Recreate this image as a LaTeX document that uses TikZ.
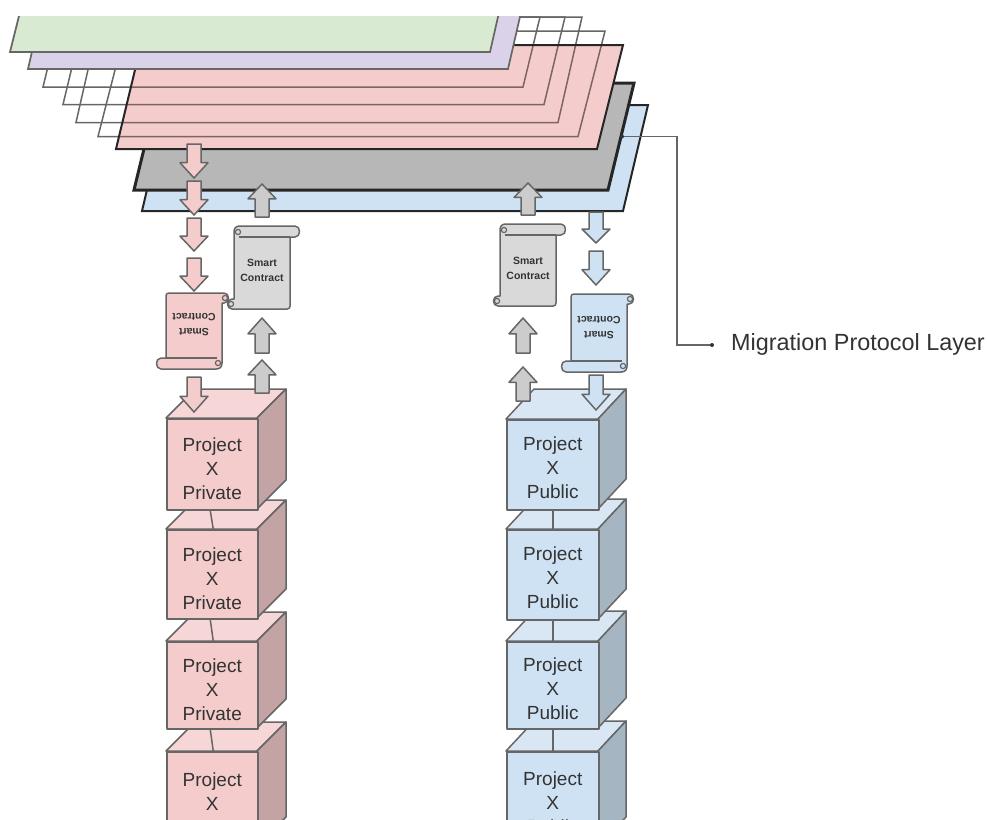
\documentclass[tikz,border=0pt]{standalone}
\usepackage{fontspec}
\setmainfont{Liberation Sans}
\usetikzlibrary{calc}
\definecolor{edgegray}{HTML}{666666}
\definecolor{txt}{HTML}{333333}
\definecolor{greenfill}{HTML}{D9EAD3}
\definecolor{purplefill}{HTML}{D9D2E9}
\definecolor{redfill}{HTML}{F4CCCC}
\definecolor{grayfill}{HTML}{B7B7B7}
\definecolor{bluefill}{HTML}{CFE2F3}
\definecolor{redline}{HTML}{7D6565}
\definecolor{scrollgray}{HTML}{D9D9D9}
\definecolor{arrowgray}{HTML}{CCCCCC}
\definecolor{pinkfront}{HTML}{F4CCCC}
\definecolor{pinktop}{HTML}{F6D6D6}
\definecolor{pinkside}{HTML}{C3A3A3}
\definecolor{skyfront}{HTML}{CFE2F3}
\definecolor{skytop}{HTML}{D9E7F5}
\definecolor{skyside}{HTML}{A6B5C2}
\tikzset{
  softedge/.style={draw=edgegray,line width=1.5pt,line join=round},
  planelight/.style={draw=edgegray,line width=1.7pt,line join=miter},
  planeblack/.style={draw=black!85,line width=2pt,line join=miter},
  gridline/.style={draw=edgegray,line width=1.5pt},
  cubetext/.style={text=txt,font=\fontsize{19}{24}\selectfont,align=center,inner sep=0pt},
  scrolltext/.style={text=txt,font=\fontsize{10.5}{15}\selectfont\bfseries,align=center,inner sep=0pt},
  leader/.style={draw=edgegray,line width=1.2pt},
  leaderdot/.style={fill=black!80,draw=none,circle,inner sep=0pt,minimum size=4pt},
}
% centre x, base y, tip y, fill
\newcommand\barrow[4]{%
  \path[softedge,fill=#4]
    (#1-7,#2) -- (#1+7,#2)
    -- ($(#1+7,#2)!0.55!(#1+7,#3)$) -- ($(#1+14,#2)!0.55!(#1+14,#3)$)
    -- (#1,#3)
    -- ($(#1-14,#2)!0.55!(#1-14,#3)$) -- ($(#1-7,#2)!0.55!(#1-7,#3)$) -- cycle;}
% name, origin x, origin y, rotation, height, fill
\newcommand\scrollshape[6]{%
  \begin{scope}[shift={(#2,#3)},rotate=#4]
    \path[softedge,fill=#6]
      (0,6) .. controls (0,2) and (2,0) .. (6,0) -- (61,0)
      .. controls (67,0) and (67,11) .. (61,11) -- (56,11) -- (56,#5-3)
      .. controls (56,#5-1) and (55,#5) .. (53,#5) -- (-2,#5)
      .. controls (-8,#5) and (-8,#5-10) .. (-2,#5-10) -- (0,#5-10) -- cycle;
    \draw[softedge,line width=1.2pt] (5,11) -- (56,11);
    \draw[softedge,line width=1.2pt] (4,6) circle (2.6pt);
    \draw[softedge,line width=1.2pt] (-3,#5-5) circle (2.6pt);
    \node[scrolltext,rotate=#4] (#1) at (28,44) {Smart\\Contract};
  \end{scope}}
% name, x, y, height, text, colour prefix
\newcommand\cubeblock[6]{%
  \path[softedge,fill=#6top] (#2,#3) -- ++(\cubedx,-\cubedy) -- ++(\cubew,0) -- ++(-\cubedx,\cubedy) -- cycle;
  \path[softedge,fill=#6side] (#2+\cubew,#3) -- ++(\cubedx,-\cubedy) -- ++(0,#4) -- ++(-\cubedx,\cubedy) -- cycle;
  \node[softedge,fill=#6front,anchor=north west,inner sep=0pt,minimum width=\cubew pt,minimum height=#4 pt] (#1) at (#2,#3) {};
  \node[cubetext] (#1t) at ([yshift=-\cubeshift pt]#1.center) {#5};}
\begin{document}
\begin{tikzpicture}[x=1pt,y=-1pt]
\clip (0,0) rectangle (987,819);
\begin{scope}
\clip (0,16) rectangle (987,819);
% blue, gray planes
\path[planeblack,fill=bluefill] (142,211) -- (623,211) -- (648,105) -- (167,105) -- cycle;
\path[planeblack,line width=3pt,fill=grayfill] (134,190) -- (608,190) -- (634,83) -- (160,83) -- cycle;
% grid planes
\draw[gridline] (43,87) -- (523,87) -- (540,17) -- (60,17) -- cycle;
\draw[gridline] (63,104.5) -- (544,104.5) -- (565,17) -- (84,17) -- cycle;
\draw[gridline] (76,122.5) -- (558,122.5) -- (582,17) -- (100,17) -- cycle;
\draw[gridline] (98,136.5) -- (578,136.5) -- (605,31) -- (125,31) -- cycle;
% red plane
\path[fill=redfill] (116,149) -- (597,149) -- (623,45) -- (141,45) -- cycle;
\begin{scope}
\clip (116,149) -- (597,149) -- (623,45) -- (141,45) -- cycle;
\draw[gridline,draw=redline] (43,87) -- (523,87) -- (540,17);
\draw[gridline,draw=redline] (63,104.5) -- (544,104.5) -- (565,17);
\draw[gridline,draw=redline] (76,122.5) -- (558,122.5) -- (582,17);
\draw[gridline,draw=redline] (98,136.5) -- (578,136.5) -- (605,31);
\end{scope}
\path[planeblack] (116,149) -- (597,149) -- (623,45) -- (141,45) -- cycle;
% purple, green planes
\path[planelight,fill=purplefill] (28,69) -- (508,69) -- (522,8) -- (42,8) -- cycle;
\path[planelight,fill=greenfill] (10,52) -- (490,52) -- (500,8) -- (21,8) -- cycle;
\end{scope}
% leader
\coordinate (leadstart) at (622,136.5);
\coordinate (leadbend) at (677,136.5);
\coordinate (leadturn) at (677,345);
\coordinate (leadend) at (712,345);
\node[anchor=west,inner sep=0pt,text=txt,font=\fontsize{23.4}{28}\selectfont] (layerlabel) at (731,344) {Migration Protocol Layer};
\draw[leader] (leadstart) -- (leadbend) -- (leadturn) -- (leadend);
\node[leaderdot] (dotstart) at (leadstart) {};
\node[leaderdot] (dotend) at (leadend) {};
% left stack
\def\cubew{91}\def\cubedx{29}\def\cubedy{29}\def\cubeshift{4.5}
\cubeblock{la}{166}{751}{95}{Project\\X\\Private}{pink}
\cubeblock{lb}{166}{641}{87}{Project\\X\\Private}{pink}
\cubeblock{lc}{166}{529}{89}{Project\\X\\Private}{pink}
\cubeblock{ld}{166}{418}{91}{Project\\X\\Private}{pink}
\draw[softedge] ([xshift=-2pt]ld.south) -- ([xshift=1pt]lc.north);
\draw[softedge] ([xshift=-2pt]lc.south) -- ([xshift=1pt]lb.north);
\draw[softedge] ([xshift=-2pt]lb.south) -- ([xshift=1pt]la.north);
% right stack
\def\cubew{92}\def\cubedx{28}\def\cubedy{30}\def\cubeshift{3}
\cubeblock{ra}{506}{751}{96}{Project\\X\\Public}{sky}
\cubeblock{rb}{506}{641}{87}{Project\\X\\Public}{sky}
\cubeblock{rc}{506}{529}{90}{Project\\X\\Public}{sky}
\cubeblock{rd}{506}{419}{90}{Project\\X\\Public}{sky}
\draw[softedge] (rd.south) -- (rc.north);
\draw[softedge] (rc.south) -- (rb.north);
\draw[softedge] (rb.south) -- (ra.north);
% scrolls
\scrollshape{sa}{234}{226}{0}{83}{scrollgray}
\scrollshape{sb}{222}{369}{180}{76}{redfill}
\scrollshape{sc}{500}{224}{0}{82}{scrollgray}
\scrollshape{sd}{627}{372}{180}{78}{bluefill}
% pink arrows
\barrow{194}{144}{178}{redfill}
\barrow{194}{181}{215}{redfill}
\barrow{194}{218}{251}{redfill}
\barrow{194}{258}{291}{redfill}
\barrow{194}{377}{412}{redfill}
% gray arrows left
\barrow{262}{217}{184}{arrowgray}
\barrow{262}{353}{318}{arrowgray}
\barrow{262}{393}{360}{arrowgray}
% gray arrows right
\barrow{528}{215}{183}{arrowgray}
\barrow{523}{353}{318}{arrowgray}
\barrow{523}{401}{367}{arrowgray}
% blue arrows
\barrow{596}{212}{243}{bluefill}
\barrow{596}{251}{285}{bluefill}
\barrow{596}{375}{410}{bluefill}
\end{tikzpicture}
\end{document}
